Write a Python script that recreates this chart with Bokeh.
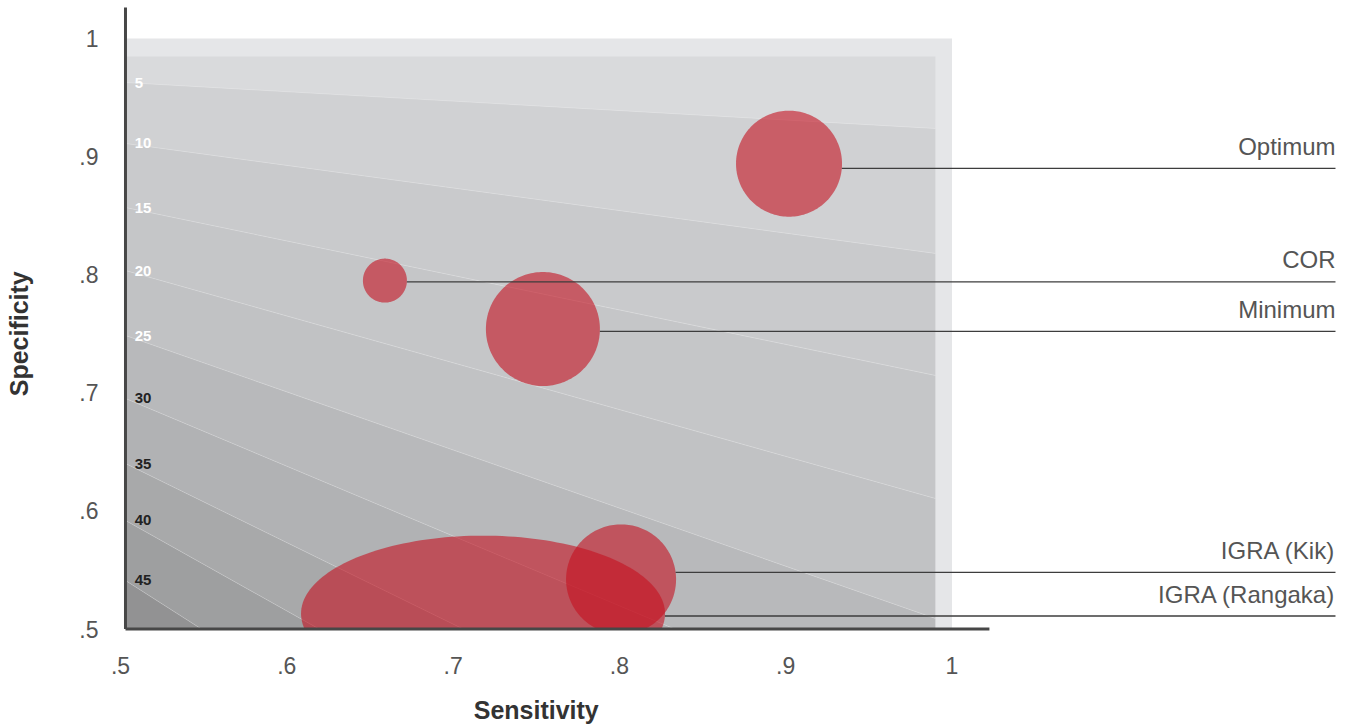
import math
from bokeh.plotting import figure
from bokeh.models import Range1d
from bokeh.embed import file_html
from bokeh.resources import INLINE
from bokeh.core.properties import value

# ---------------- data ----------------
sens_ticks = [0.5, 0.6, 0.7, 0.8, 0.9, 1.0]
sens_tick_labels = [".5", ".6", ".7", ".8", ".9", "1"]
spec_ticks = [0.5, 0.6, 0.7, 0.8, 0.9, 1.0]
spec_tick_labels = [".5", ".6", ".7", ".8", ".9", "1"]
x_title = "Sensitivity"
y_title = "Specificity"

names = ["Optimum", "COR", "Minimum", "IGRA (Kik)", "IGRA (Rangaka)"]
sensitivity = [0.902, 0.659, 0.754, 0.801, 0.718]
specificity = [0.894, 0.795, 0.754, 0.542, 0.513]
bubble_w = [106, 44, 114, 110, 364]   # screen px
bubble_h = [106, 44, 114, 110, 156]   # screen px
leader_spec = [0.890, 0.794, 0.752, 0.548, 0.511]

# iso-lines: label, specificity at left edge and at right edge of the shaded field
iso_labels = ["5", "10", "15", "20", "25", "30", "35", "40", "45"]
iso_left = [0.9627, 0.9111, 0.8569, 0.8035, 0.7485, 0.6952, 0.6401, 0.5919, 0.5411]
iso_right = [0.9238, 0.8180, 0.7147, 0.6105, 0.5089, 0.4073, 0.3040, 0.2074, 0.1025]
band_colors = ["#d9dadc", "#d0d1d3", "#c9cacc", "#c5c6c8", "#c1c2c4", "#b8b9bb",
               "#b1b2b4", "#a8a9aa", "#9e9fa0", "#929293"]
iso_text_colors = ["white"] * 5 + ["#222222"] * 4

# ---------------- geometry ----------------
W, H = 1344, 724
PXX, PXY = 1663.0, 1181.0          # pixels per data unit
ORIG_X, ORIG_Y = 120.0, 628.5      # canvas position of (0.5, 0.5)
XS = 0.5 - ORIG_X / PXX
XE = XS + W / PXX
YE = 0.5 + ORIG_Y / PXY
YS = YE - H / PXY

BASE = 0.5
AXIS_X = 0.503
AXIS_TOP = 1.0263
FIELD_RIGHT = 0.99
FIELD_TOP = 0.9848
OUTER_RIGHT = 1.0
OUTER_TOP = 1.0
XAXIS_END = 1.0225
LABEL_X = 1.2306

FONT = "Liberation Sans"


def clip_above(px, py, ymin):
    """Sutherland-Hodgman clip of a polygon to the half plane y >= ymin."""
    ox, oy = [], []
    n = len(px)
    for i in range(n):
        x1, y1 = px[i], py[i]
        x2, y2 = px[(i + 1) % n], py[(i + 1) % n]
        in1, in2 = y1 >= ymin, y2 >= ymin
        if in1:
            ox.append(x1)
            oy.append(y1)
        if in1 != in2:
            t = (ymin - y1) / (y2 - y1)
            ox.append(x1 + t * (x2 - x1))
            oy.append(ymin)
    return ox, oy


p = figure(width=W, height=H, output_backend="svg", toolbar_location=None,
           x_range=Range1d(XS, XE), y_range=Range1d(YS, YE),
           min_border_left=0, min_border_right=0, min_border_top=0,
           min_border_bottom=0, x_axis_location=None, y_axis_location=None)
p.outline_line_color = None
p.grid.visible = False
p.background_fill_color = "white"

# outer light rectangle
p.quad(left=[AXIS_X], right=[OUTER_RIGHT], bottom=[BASE], top=[OUTER_TOP],
       fill_color="#e5e6e8", line_color=None)

# bands
tops = [[FIELD_TOP, FIELD_TOP]] + [[l, r] for l, r in zip(iso_left, iso_right)]
bots = [[l, r] for l, r in zip(iso_left, iso_right)] + [[BASE - 1, BASE - 1]]
xs, ys = [], []
for t, b in zip(tops, bots):
    cx, cy = clip_above([AXIS_X, FIELD_RIGHT, FIELD_RIGHT, AXIS_X],
                        [t[0], t[1], b[1], b[0]], BASE)
    xs.append(cx)
    ys.append(cy)
p.patches(xs=xs, ys=ys, fill_color=band_colors, line_color=None)

# faint iso lines (clipped at the base line)
sx0, sy0, sx1, sy1 = [], [], [], []
for l, r in zip(iso_left, iso_right):
    x_end, y_end = FIELD_RIGHT, r
    if r < BASE:
        x_end = AXIS_X + (FIELD_RIGHT - AXIS_X) * (l - BASE) / (l - r)
        y_end = BASE
    sx0.append(AXIS_X); sy0.append(l); sx1.append(x_end); sy1.append(y_end)
p.segment(x0=sx0, y0=sy0, x1=sx1, y1=sy1, line_color="white", line_alpha=0.22,
          line_width=1)

# iso labels
p.text(x=[AXIS_X + 0.0055] * len(iso_labels), y=iso_left, text=iso_labels,
       text_color=iso_text_colors, text_font=value(FONT), text_font_style="bold",
       text_font_size="15px", text_align="left", text_baseline="middle")

# bubbles as ellipse outlines clipped at the base line
bx, by = [], []
for cx, cy, w, h in zip(sensitivity, specificity, bubble_w, bubble_h):
    a, b = (w / 2.0) / PXX, (h / 2.0) / PXY
    ex = [cx + a * math.cos(2 * math.pi * k / 180) for k in range(180)]
    ey = [cy + b * math.sin(2 * math.pi * k / 180) for k in range(180)]
    qx, qy = clip_above(ex, ey, BASE)
    bx.append(qx)
    by.append(qy)
p.patches(xs=bx, ys=by, fill_color="#c4111f", fill_alpha=0.6, line_color=None)

# leader lines and labels
lx0 = []
for cx, cy, w, h, ly in zip(sensitivity, specificity, bubble_w, bubble_h, leader_spec):
    dy = (ly - cy) * PXY / (h / 2.0)
    half = (w / 2.0) * math.sqrt(max(0.0, 1 - dy * dy))
    lx0.append(cx + half / PXX)
p.segment(x0=lx0, y0=leader_spec, x1=[LABEL_X] * len(lx0), y1=leader_spec,
          line_color="#3d3d3d", line_width=1.3)
p.text(x=[LABEL_X] * len(names), y=leader_spec, text=names, text_align="right",
       text_baseline="alphabetic", y_offset=-22, text_font=value(FONT),
       text_font_size="24px", text_color="#555555")

# axis lines
p.segment(x0=[AXIS_X, AXIS_X], y0=[BASE, BASE], x1=[AXIS_X, XAXIS_END],
          y1=[AXIS_TOP, BASE], line_color="#474747", line_width=3)

# tick labels
p.text(x=sens_ticks, y=[BASE] * len(sens_ticks), text=sens_tick_labels,
       text_align="center", text_baseline="top", y_offset=28,
       text_font=value(FONT), text_font_size="23px", text_color="#555555")
p.text(x=[BASE] * len(spec_ticks), y=spec_ticks, text=spec_tick_labels,
       text_align="right", text_baseline="middle", x_offset=-22,
       text_font=value(FONT), text_font_size="23px", text_color="#555555")

# axis titles
p.text(x=[(sens_ticks[0] + sens_ticks[-1]) / 2], y=[BASE], text=[x_title],
       text_align="center", text_baseline="middle", y_offset=81,
       text_font=value(FONT), text_font_style="bold", text_font_size="25px",
       text_color="#333333")
p.text(x=[BASE], y=[(spec_ticks[0] + spec_ticks[-1]) / 2], text=[y_title],
       text_align="center", text_baseline="middle", x_offset=-102,
       angle=math.pi / 2, text_font=value(FONT), text_font_style="bold",
       text_font_size="25px", text_color="#333333")

open("out.html", "w").write(file_html(p, INLINE))
